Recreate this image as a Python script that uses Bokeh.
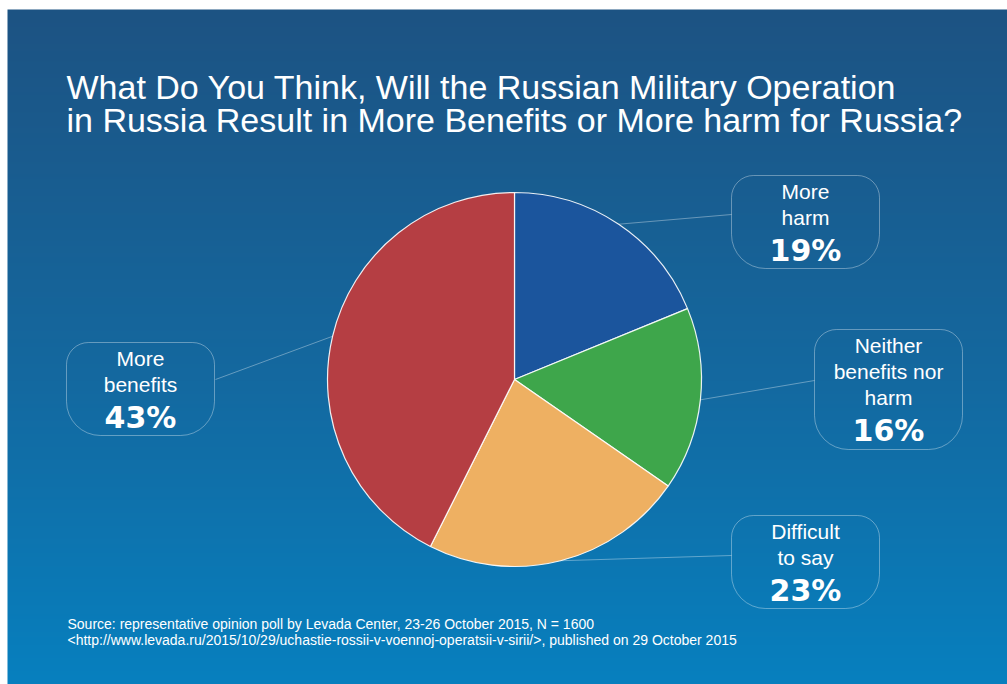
import numpy as np
from bokeh.plotting import figure
from bokeh.models import Range1d, BoxAnnotation, ColumnDataSource
from bokeh.core.properties import value
from bokeh.embed import file_html
from bokeh.resources import INLINE

# ---------------- data ----------------
categories = ["More harm", "Neither benefits nor harm", "Difficult to say", "More benefits"]
values = [19, 16, 23, 43]
label_lines = [["More", "harm"], ["Neither", "benefits nor", "harm"], ["Difficult", "to say"], ["More", "benefits"]]
title_lines = [
    "What Do You Think, Will the Russian Military Operation",
    "in Russia Result in More Benefits or More harm for Russia?",
]
source_lines = [
    "Source: representative opinion poll by Levada Center, 23-26 October 2015, N = 1600",
    "<http://www.levada.ru/2015/10/29/uchastie-rossii-v-voennoj-operatsii-v-sirii/>, published on 29 October 2015",
]

# ---------------- style / layout ----------------
slice_colors = ["#1b559d", "#3ea64b", "#eeb062", "#b53e43"]
W, H = 1007, 684
BG_LEFT, BG_TOP = 7, 9
PIE_CX, PIE_CY, PIE_R = 514, 379, 187          # pixel coordinates (y down)
# boxes: left, right, top, bottom (pixel coords, y down)
boxes = [(731, 879, 175, 268), (814, 962, 329, 449), (731, 879, 515, 608), (66, 214, 342, 435)]
anchors = [(731, 214), (814, 380), (731, 555), (215, 379)]
FONT = value("Liberation Sans")


def Y(py):
    return H - py


p = figure(width=W, height=H, x_range=Range1d(0, W), y_range=Range1d(0, H),
           output_backend="svg", toolbar_location=None, min_border=0,
           x_axis_location=None, y_axis_location=None)
p.xgrid.visible = False
p.ygrid.visible = False
p.outline_line_color = None
p.background_fill_color = "white"
p.border_fill_color = "white"

# background gradient (top -> bottom)
bh = H - BG_TOP
img = np.zeros((bh, 1), dtype=np.uint32)
view = img.view(dtype=np.uint8).reshape((bh, 1, 4))
top_c = np.array([29, 83, 131], dtype=float)
mid_c = np.array([20, 105, 160], dtype=float)
bot_c = np.array([7, 128, 191], dtype=float)
t = np.linspace(0, 1, bh)  # 0 = bottom row, 1 = top row
for i in range(bh):
    tt = t[i]
    if tt < 0.45:
        c = bot_c + (mid_c - bot_c) * (tt / 0.45)
    else:
        c = mid_c + (top_c - mid_c) * ((tt - 0.45) / 0.55)
    view[i, 0, 0:3] = c.astype(np.uint8)
    view[i, 0, 3] = 255
p.image_rgba(image=[img], x=BG_LEFT, y=0, dw=W - BG_LEFT, dh=bh)

# pie
vals = np.array(values, dtype=float)
frac = vals / vals.sum()
cum_end = np.cumsum(frac)
cum_start = cum_end - frac
start = np.pi / 2 - 2 * np.pi * cum_start
end = np.pi / 2 - 2 * np.pi * cum_end
src = ColumnDataSource(dict(cat=categories, start=start, end=end, color=slice_colors))
p.wedge(x=PIE_CX, y=Y(PIE_CY), radius=PIE_R, start_angle="start", end_angle="end",
        direction="clock", fill_color="color", line_color="white", line_width=1.2,
        line_alpha=0.9, source=src)

# leader lines
mid = np.pi / 2 - 2 * np.pi * (cum_start + frac / 2)
x0 = PIE_CX + PIE_R * np.cos(mid)
y0 = Y(PIE_CY) + PIE_R * np.sin(mid)
x1 = [a[0] for a in anchors]
y1 = [Y(a[1]) for a in anchors]
p.segment(x0=x0, y0=y0, x1=x1, y1=y1, line_color="white", line_alpha=0.35, line_width=1)

# label boxes and texts
tx, ty, tt_ = [], [], []
px, py, pt = [], [], []
for i, (l, r, tp, bt) in enumerate(boxes):
    p.add_layout(BoxAnnotation(left=l, right=r, top=Y(tp), bottom=Y(bt),
                               fill_color=None, line_color="white", line_alpha=0.35,
                               line_width=1,
                               border_radius=dict(top_left=22, top_right=22,
                                                  bottom_right=34, bottom_left=34)))
    cx = (l + r) / 2
    yy = tp + 16
    for ln in label_lines[i]:
        tx.append(cx)
        ty.append(Y(yy))
        tt_.append(ln)
        yy += 26
    px.append(cx)
    py.append(Y(yy - 26 + 33))
    pt.append(f"{values[i]}%")

p.text(x=tx, y=ty, text=tt_, text_font=FONT, text_font_size="21px", text_color="white",
       text_align="center", text_baseline="middle")
p.text(x=px, y=py, text=pt, text_font=value("DejaVu Sans"), text_font_size="30px",
       text_font_style="bold", text_color="white", text_align="center", text_baseline="middle")

# title
p.text(x=[66, 66], y=[Y(86), Y(119)], text=title_lines, text_font=FONT, text_font_size="34px",
       text_color="white", text_align="left", text_baseline="alphabetic")

# source
p.text(x=[67, 67], y=[Y(623), Y(639)], text=source_lines, text_font=FONT, text_font_size="14px",
       text_color="white", text_align="left", text_baseline="alphabetic")

open("out.html", "w").write(file_html(p, INLINE))
